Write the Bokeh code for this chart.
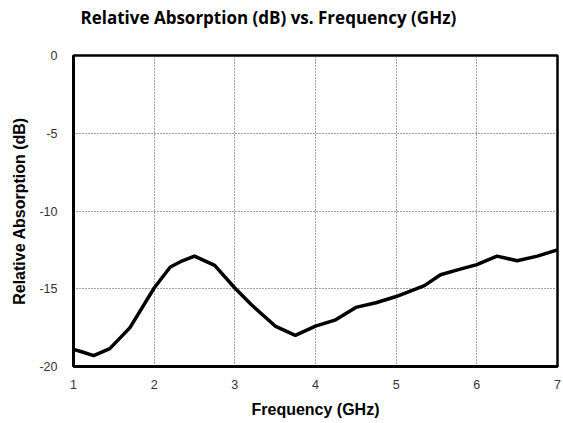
from bokeh.plotting import figure
from bokeh.models import Range1d, FixedTicker, Title
from bokeh.embed import file_html
from bokeh.resources import INLINE

freq = [1.0, 1.1, 1.25, 1.45, 1.7, 2.0, 2.2, 2.35, 2.5, 2.75, 3.0, 3.2, 3.5, 3.75,
        4.0, 4.25, 4.5, 4.75, 5.0, 5.2, 5.35, 5.55, 5.75, 6.0, 6.25, 6.5, 6.75, 7.0]
absorption = [-18.9, -19.05, -19.3, -18.85, -17.5, -14.95, -13.6, -13.2, -12.9, -13.5,
              -14.95, -16.0, -17.4, -18.0, -17.4, -17.0, -16.2, -15.9, -15.5, -15.1,
              -14.8, -14.1, -13.8, -13.45, -12.9, -13.2, -12.9, -12.5]
x_ticks = [1, 2, 3, 4, 5, 6, 7]
y_ticks = [-20, -15, -10, -5, 0]
y_tick_labels = ["-20", "-15", "-10", "-5", "0"]
title_text = "Relative Absorption (dB) vs. Frequency (GHz)"

p = figure(width=563, height=423, output_backend="svg", toolbar_location=None,
           x_range=Range1d(1, 7), y_range=Range1d(-20, 0),
           min_border_left=73, min_border_right=6, min_border_top=55, min_border_bottom=57)

# spacer (closest to the frame), then the real title above it
p.add_layout(Title(text=" ", text_font_size="1px", standoff=24), "above")
p.add_layout(Title(text=title_text, align="left", offset=7,
                   text_font="Open Sans", text_font_size="17px", text_font_style="bold",
                   text_color="black", standoff=0), "above")

p.line(freq, absorption, line_color="black", line_width=3.5)

p.outline_line_color = "black"
p.outline_line_width = 2.5
p.outline_line_alpha = 1

for ax in (p.xaxis[0], p.yaxis[0]):
    ax.axis_line_color = "black"
    ax.axis_line_width = 3
    ax.major_tick_line_color = None
    ax.minor_tick_line_color = None
    ax.major_label_text_font = "Liberation Sans"
    ax.major_label_text_font_size = "12.5px"
    ax.major_label_text_color = "#333333"
    ax.axis_label_text_font = "Liberation Sans"
    ax.axis_label_text_font_size = "16px"
    ax.axis_label_text_font_style = "bold"
    ax.axis_label_text_color = "black"

p.xaxis.ticker = FixedTicker(ticks=x_ticks)
p.yaxis.ticker = FixedTicker(ticks=y_ticks)
p.yaxis.major_label_overrides = {t: s for t, s in zip(y_ticks, y_tick_labels)}
p.xaxis.axis_label = "Frequency (GHz)"
p.yaxis.axis_label = "Relative Absorption (dB)"
p.xaxis.major_label_standoff = 7
p.yaxis.major_label_standoff = 10
p.xaxis.axis_label_standoff = 9
p.yaxis.axis_label_standoff = 8

p.xgrid.grid_line_color = "#444444"
p.ygrid.grid_line_color = "#444444"
p.xgrid.grid_line_dash = "1 2"
p.ygrid.grid_line_dash = "1 2"
p.xgrid.grid_line_width = 1
p.ygrid.grid_line_width = 1

open("out.html", "w").write(file_html(p, INLINE))
